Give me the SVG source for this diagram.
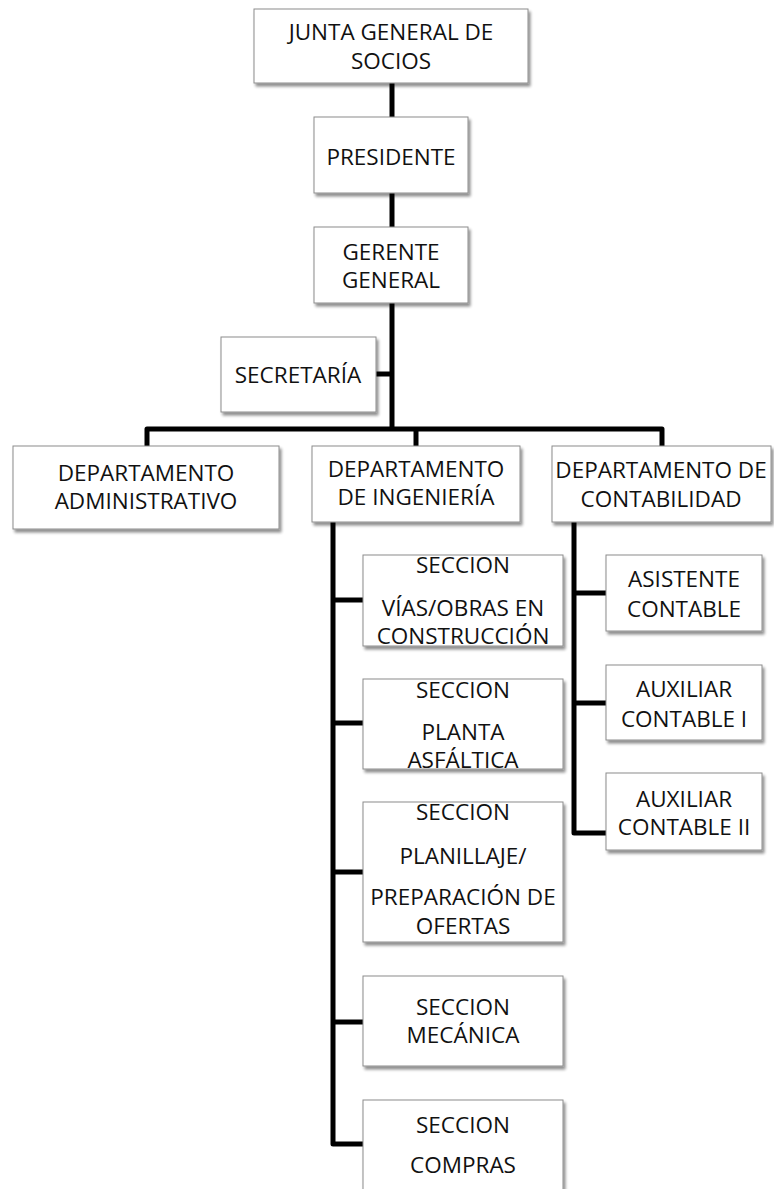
<svg xmlns="http://www.w3.org/2000/svg" width="774" height="1189" viewBox="0 0 774 1189">
  <style>
    .box { fill: #ffffff; stroke: #8c8c8c; stroke-width: 1; filter: url(#shadow); }
    .lbl { font-family: "Open Sans", "Noto Sans", sans-serif; font-size: 22.5px; fill: #111111; text-anchor: middle; }
    .wire { fill: none; stroke: #000000; stroke-width: 5; stroke-linejoin: round; stroke-linecap: butt; }
  </style>
  <defs>
    <filter id="shadow" x="-10%" y="-10%" width="125%" height="130%">
      <feGaussianBlur in="SourceAlpha" stdDeviation="1.6"/>
      <feOffset dx="2" dy="3" result="blur"/>
      <feComponentTransfer><feFuncA type="linear" slope="0.45"/></feComponentTransfer>
      <feMerge><feMergeNode/><feMergeNode in="SourceGraphic"/></feMerge>
    </filter>
  </defs>
  <rect width="774" height="1189" fill="#ffffff"/>

  <!-- connectors -->
  <g id="connectors" class="wire">
    <path d="M392,83 V117"/>
    <path d="M392,193 V227"/>
    <path d="M392,303 V431"/>
    <path d="M376,374 H392"/>
    <path d="M147,446 V429 H662 V446"/>
    <path d="M416,429 V446"/>
    <path d="M333,522 V1144 H363"/>
    <path d="M333,600 H363"/>
    <path d="M333,723 H363"/>
    <path d="M333,872 H363"/>
    <path d="M333,1022 H363"/>
    <path d="M574,522 V833 H606"/>
    <path d="M574,593 H606"/>
    <path d="M574,703 H606"/>
  </g>

  <g id="junta">
    <rect class="box" x="254" y="9" width="274" height="74"/>
    <text class="lbl" x="391" y="40">JUNTA GENERAL DE</text>
    <text class="lbl" x="391" y="69">SOCIOS</text>
  </g>
  <g id="presidente">
    <rect class="box" x="314" y="117" width="154" height="76"/>
    <text class="lbl" x="391" y="165">PRESIDENTE</text>
  </g>
  <g id="gerente">
    <rect class="box" x="314" y="227" width="154" height="76"/>
    <text class="lbl" x="391" y="260">GERENTE</text>
    <text class="lbl" x="391" y="288">GENERAL</text>
  </g>
  <g id="secretaria">
    <rect class="box" x="221" y="337" width="155" height="75"/>
    <text class="lbl" x="298" y="383">SECRETARÍA</text>
  </g>
  <g id="dep-administrativo">
    <rect class="box" x="13" y="446" width="266" height="83"/>
    <text class="lbl" x="146" y="481">DEPARTAMENTO</text>
    <text class="lbl" x="146" y="509">ADMINISTRATIVO</text>
  </g>
  <g id="dep-ingenieria">
    <rect class="box" x="312" y="446" width="208" height="76"/>
    <text class="lbl" x="416" y="477">DEPARTAMENTO</text>
    <text class="lbl" x="416" y="505">DE INGENIERÍA</text>
  </g>
  <g id="dep-contabilidad">
    <rect class="box" x="552" y="446" width="219" height="76"/>
    <text class="lbl" x="661" y="478">DEPARTAMENTO DE</text>
    <text class="lbl" x="661" y="507">CONTABILIDAD</text>
  </g>

  <g id="sec-vias">
    <rect class="box" x="363" y="555" width="200" height="91"/>
    <text class="lbl" x="463" y="573">SECCION</text>
    <text class="lbl" x="463" y="616">VÍAS/OBRAS EN</text>
    <text class="lbl" x="463" y="644">CONSTRUCCIÓN</text>
  </g>
  <g id="sec-planta">
    <rect class="box" x="363" y="679" width="200" height="90"/>
    <text class="lbl" x="463" y="698">SECCION</text>
    <text class="lbl" x="463" y="740">PLANTA</text>
    <text class="lbl" x="463" y="768">ASFÁLTICA</text>
  </g>
  <g id="sec-planillaje">
    <rect class="box" x="363" y="802" width="200" height="140"/>
    <text class="lbl" x="463" y="820">SECCION</text>
    <text class="lbl" x="463" y="864">PLANILLAJE/</text>
    <text class="lbl" x="463" y="905">PREPARACIÓN DE</text>
    <text class="lbl" x="463" y="934">OFERTAS</text>
  </g>
  <g id="sec-mecanica">
    <rect class="box" x="363" y="976" width="200" height="90"/>
    <text class="lbl" x="463" y="1015">SECCION</text>
    <text class="lbl" x="463" y="1043">MECÁNICA</text>
  </g>
  <g id="sec-compras">
    <rect class="box" x="363" y="1100" width="200" height="100"/>
    <text class="lbl" x="463" y="1133">SECCION</text>
    <text class="lbl" x="463" y="1173">COMPRAS</text>
  </g>

  <g id="asistente-contable">
    <rect class="box" x="606" y="555" width="156" height="76"/>
    <text class="lbl" x="684" y="587">ASISTENTE</text>
    <text class="lbl" x="684" y="617">CONTABLE</text>
  </g>
  <g id="auxiliar-contable-1">
    <rect class="box" x="606" y="665" width="156" height="75"/>
    <text class="lbl" x="684" y="697">AUXILIAR</text>
    <text class="lbl" x="684" y="727">CONTABLE I</text>
  </g>
  <g id="auxiliar-contable-2">
    <rect class="box" x="606" y="773" width="156" height="77"/>
    <text class="lbl" x="684" y="807">AUXILIAR</text>
    <text class="lbl" x="684" y="835">CONTABLE II</text>
  </g>
</svg>
